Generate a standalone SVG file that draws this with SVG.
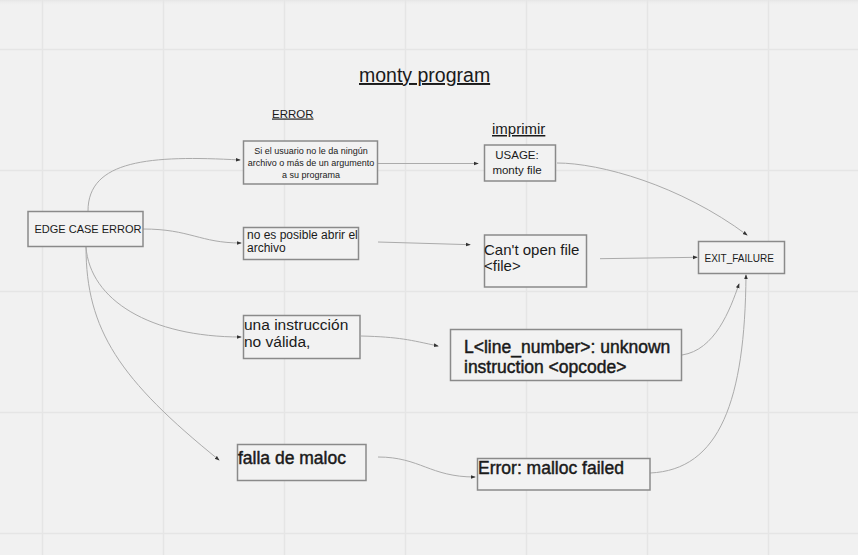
<svg xmlns="http://www.w3.org/2000/svg" width="858" height="555" viewBox="0 0 858 555">
<defs>
<style>
.bg{fill:#f1f1f1}
.grid line{stroke:#e5e5e5;stroke-width:1.5}
.box{fill:#f2f2f2;stroke:#8a8a8a;stroke-width:1.5}
.t{font-family:"Liberation Sans",Arial,sans-serif;fill:#1a1a1a}
.b{stroke:#1a1a1a;stroke-width:0.45}
.u{text-decoration:underline}
.c{text-anchor:middle}
.conn path,.conn line{fill:none;stroke:#ababab;stroke-width:1;marker-end:url(#ah)}
</style>
<marker id="ah" viewBox="0 0 6 6" refX="5" refY="3" markerWidth="5" markerHeight="5" markerUnits="userSpaceOnUse" orient="auto">
<path d="M0,0.8 L6,3 L0,5.2 z" fill="#333"/>
</marker>
<linearGradient id="shade" x1="0" y1="0" x2="0" y2="1">
<stop offset="0" stop-color="#e6e6e6"/>
<stop offset="1" stop-color="#f1f1f1" stop-opacity="0"/>
</linearGradient>
</defs>
<rect class="bg" x="0" y="0" width="858" height="555"/>
<rect x="0" y="0" width="858" height="6" fill="url(#shade)"/>
<g class="grid">
<line x1="42.5" y1="0" x2="42.5" y2="555"/>
<line x1="163.5" y1="0" x2="163.5" y2="555"/>
<line x1="284.5" y1="0" x2="284.5" y2="555"/>
<line x1="405.5" y1="0" x2="405.5" y2="555"/>
<line x1="526.5" y1="0" x2="526.5" y2="555"/>
<line x1="647.5" y1="0" x2="647.5" y2="555"/>
<line x1="768.5" y1="0" x2="768.5" y2="555"/>
<line x1="0" y1="49.5" x2="858" y2="49.5"/>
<line x1="0" y1="170.5" x2="858" y2="170.5"/>
<line x1="0" y1="291.5" x2="858" y2="291.5"/>
<line x1="0" y1="412.5" x2="858" y2="412.5"/>
<line x1="0" y1="533.5" x2="858" y2="533.5"/>
</g>

<g id="labels">
<text class="t u" x="359" y="82" font-size="19.5">monty program</text>
<text class="t u" x="272" y="117.5" font-size="11.5">ERROR</text>
<text class="t u" x="492" y="134" font-size="15">imprimir</text>
</g>

<g class="conn">
<path d="M88,211 C88,160 150,155 240,160"/>
<path d="M143,229 C190,229 200,243 241,243"/>
<path d="M86,247 C90,300 150,337 241,337"/>
<path d="M86,247 C86,330 120,380 219,460"/>
<line x1="378" y1="163.5" x2="478" y2="163.5"/>
<line x1="378" y1="242" x2="470" y2="244.7"/>
<path d="M361,336 C400,337 410,340 438,346"/>
<path d="M378,457 C420,457 430,477 475,477"/>
<path d="M557,163 C600,163 680,185 747,235"/>
<line x1="600" y1="258.7" x2="697" y2="257.3"/>
<path d="M682,355 C715,350 730,310 739,284"/>
<path d="M650,473 C720,470 745,400 746,275"/>
</g>

<g id="edge-case-error">
<rect class="box" x="28" y="211.5" width="115" height="35"/>
<text class="t" x="34.5" y="233" font-size="11">EDGE CASE ERROR</text>
</g>
<g id="no-argument">
<rect class="box" x="243.5" y="141" width="134" height="43"/>
<text class="t c" x="311" y="154" font-size="9">Si el usuario no le da ningún</text>
<text class="t c" x="311" y="166" font-size="9">archivo o más de un argumento</text>
<text class="t c" x="311" y="178" font-size="9">a su programa</text>
</g>
<g id="usage">
<rect class="box" x="484.5" y="145" width="71" height="36"/>
<text class="t c" x="517" y="158.5" font-size="11.5">USAGE:</text>
<text class="t c" x="517" y="173.5" font-size="11.5">monty file</text>
</g>
<g id="cannot-open">
<rect class="box" x="243.5" y="227.5" width="115" height="32"/>
<text class="t" x="247" y="239" font-size="12">no es posible abrir el</text>
<text class="t" x="247" y="252" font-size="12">archivo</text>
</g>
<g id="cant-open-file">
<rect class="box" x="484.5" y="235" width="102" height="52"/>
<text class="t" x="484" y="255" font-size="15">Can't open file</text>
<text class="t" x="484" y="271" font-size="15">&lt;file&gt;</text>
</g>
<g id="exit-failure">
<rect class="box" x="698.5" y="241.5" width="86" height="32"/>
<text class="t" x="704.5" y="261.5" font-size="10">EXIT_FAILURE</text>
</g>
<g id="invalid-instruction">
<rect class="box" x="243.5" y="315.5" width="116.5" height="43"/>
<text class="t" x="244" y="329.5" font-size="15.5">una instrucción</text>
<text class="t" x="244" y="347" font-size="15.5">no válida,</text>
</g>
<g id="unknown-instruction">
<rect class="box" x="450.5" y="329.5" width="231" height="51"/>
<text class="t b" x="464" y="353" font-size="17.5">L&lt;line_number&gt;: unknown</text>
<text class="t b" x="464" y="373" font-size="17.5">instruction &lt;opcode&gt;</text>
</g>
<g id="malloc-fail">
<rect class="box" x="237.5" y="444.5" width="128.5" height="36"/>
<text class="t b" x="238" y="463.5" font-size="17.5">falla de maloc</text>
</g>
<g id="malloc-failed">
<rect class="box" x="477.5" y="458.5" width="172.5" height="31.5"/>
<text class="t b" x="478" y="473.5" font-size="17.5">Error: malloc failed</text>
</g>
</svg>
